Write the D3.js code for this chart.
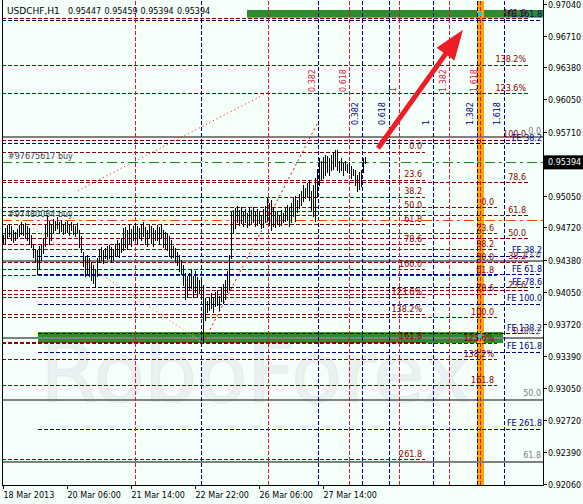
<!DOCTYPE html>
<html><head><meta charset="utf-8">
<script src="https://cdn.jsdelivr.net/npm/d3@7"></script>
<style>
html,body{margin:0;padding:0;background:#F5FFFA;}
svg{display:block;}
text{font-family:"DejaVu Sans",sans-serif;}
</style></head><body>
<svg id="c" width="583" height="504"></svg>
<script>
// ---------------- DATA ----------------
const headerParts = ["USDCHF,H1", "0.95447", "0.95459", "0.95394", "0.95394"];
const lastPrice = 0.95394;

// H1 bars (index 0 = first visible bar)
const highs = [0.9464,0.9471,0.9474,0.9475,0.9473,0.9469,0.9467,0.9470,0.9474,0.9477,
0.9475,0.9476,0.9473,0.9471,0.9464,0.9454,0.9450,0.9448,0.9453,0.9454,
0.9461,0.9474,0.9485,0.9479,0.9475,0.9481,0.9479,0.9483,0.9477,0.9480,
0.9475,0.9478,0.9479,0.9474,0.9477,0.9475,0.9473,0.9476,0.9469,0.9463,
0.9446,0.9442,0.9443,0.9440,0.9436,0.9433,0.9429,0.9440,0.9450,0.9452,
0.9448,0.9451,0.9453,0.9454,0.9452,0.9450,0.9455,0.9459,0.9456,0.9461,
0.9471,0.9472,0.9469,0.9475,0.9470,0.9473,0.9476,0.9473,0.9471,0.9475,
0.9477,0.9472,0.9469,0.9474,0.9473,0.9471,0.9469,0.9474,0.9472,0.9475,
0.9469,0.9467,0.9466,0.9463,0.9459,0.9453,0.9451,0.9446,0.9443,0.9438,
0.9433,0.9425,0.9422,0.9425,0.9429,0.9421,0.9427,0.9420,0.9417,0.9419,
0.9412,0.9399,0.9396,0.9400,0.9404,0.9399,0.9405,0.9407,0.9401,0.9410,
0.9413,0.9417,0.9427,0.9443,0.9488,0.9490,0.9492,0.9494,0.9490,0.9493,
0.9488,0.9491,0.9487,0.9492,0.9490,0.9493,0.9488,0.9491,0.9489,0.9485,
0.9491,0.9494,0.9502,0.9497,0.9500,0.9492,0.9488,0.9489,0.9485,0.9490,
0.9487,0.9492,0.9495,0.9493,0.9497,0.9502,0.9505,0.9500,0.9507,0.9510,
0.9516,0.9513,0.9518,0.9521,0.9510,0.9516,0.9523,0.9533,0.9544,0.9541,
0.9545,0.9547,0.9546,0.9544,0.9547,0.9550,0.9552,0.9552,0.9541,0.9544,
0.9539,0.9541,0.9538,0.9540,0.9536,0.9533,0.9531,0.9526,0.9529,0.9531,
0.9544,0.9545];
const lows = [0.9455,0.9456,0.9461,0.9463,0.9459,0.9457,0.9459,0.9461,0.9463,0.9465,
0.9464,0.9461,0.9459,0.9455,0.9452,0.9441,0.9436,0.9424,0.9429,0.9438,
0.9445,0.9453,0.9463,0.9455,0.9459,0.9467,0.9469,0.9471,0.9466,0.9468,
0.9465,0.9467,0.9467,0.9464,0.9469,0.9465,0.9463,0.9466,0.9452,0.9446,
0.9432,0.9422,0.9425,0.9421,0.9417,0.9414,0.9410,0.9421,0.9436,0.9438,
0.9435,0.9440,0.9439,0.9440,0.9436,0.9438,0.9442,0.9443,0.9441,0.9446,
0.9448,0.9452,0.9450,0.9456,0.9453,0.9459,0.9459,0.9455,0.9461,0.9459,
0.9463,0.9455,0.9453,0.9461,0.9456,0.9453,0.9459,0.9459,0.9455,0.9461,
0.9452,0.9451,0.9448,0.9442,0.9440,0.9441,0.9436,0.9433,0.9427,0.9424,
0.9412,0.9398,0.9400,0.9407,0.9409,0.9400,0.9405,0.9401,0.9404,0.9398,
0.9352,0.9376,0.9384,0.9386,0.9388,0.9384,0.9390,0.9391,0.9386,0.9396,
0.9393,0.9398,0.9405,0.9407,0.9440,0.9467,0.9471,0.9477,0.9474,0.9476,
0.9473,0.9477,0.9472,0.9474,0.9475,0.9477,0.9473,0.9474,0.9476,0.9471,
0.9472,0.9477,0.9479,0.9474,0.9469,0.9473,0.9472,0.9475,0.9473,0.9474,
0.9477,0.9479,0.9480,0.9473,0.9477,0.9484,0.9479,0.9488,0.9492,0.9495,
0.9499,0.9502,0.9503,0.9500,0.9490,0.9484,0.9479,0.9505,0.9516,0.9521,
0.9523,0.9526,0.9529,0.9526,0.9531,0.9533,0.9536,0.9531,0.9529,0.9531,
0.9526,0.9531,0.9529,0.9528,0.9523,0.9526,0.9516,0.9510,0.9512,0.9515,
0.9529,0.9539];

// axes
const timeTickIdx = [0, 32, 64, 96, 128, 160];
const timeTickLabels = ["18 Mar 2013", "20 Mar 06:00", "21 Mar 14:00", "22 Mar 22:00", "26 Mar 06:00", "27 Mar 14:00"];
const priceTicks = [0.97040,0.96710,0.96380,0.96050,0.95710,0.95050,0.94720,0.94380,0.94050,0.93720,0.93390,0.93050,0.92720,0.92390,0.92060];

// Fibonacci retracements (price at 0% and at 100%)
const fibLevels = [0, 23.6, 38.2, 50, 61.8, 78.6, 100, 123.6, 138.2, 161.8, 261.8];
const fibLabels = ["0.0","23.6","38.2","50.0","61.8","78.6","100.0","123.6%","138.2%","161.8","261.8"];
const fibA = [0.95503, 0.94284];
const fibB = [0.94927, 0.93787];
const fibC = [0.93585, 0.95627];
const fibGray = [0.95664, 0.90216];
const grayLevels = [0, 23.6, 38.2, 50, 61.8];
const grayLabels = ["0.0","23.6","38.2","50.0","61.8"];
// Fibonacci expansions
const fe1 = [0.94730, 0.93927];
const fe1Levels = [38.2, 61.8, 78.6, 100, 138.2, 161.8, 261.8];
const fe1Labels = ["FE 38.2","FE 61.8","FE 78.6","FE 100.0","FE 138.2","FE 161.8","FE 261.8"];
const fe2 = [0.95195, 0.96231];
const fe2Levels = [38.2, 161.8];
const fe2Labels = ["FE 38.2","FE 161.8"];

// Fibonacci time zones (bar index of 0 and 1)
const tzRed = [132.5, 198];
const tzNavy = [157.5, 215];
const tzLevels = [0, 0.382, 0.618, 1, 1.382, 1.618];
const tzLabels = ["", "0.382", "0.618", "1", "1.382", "1.618"];
const vlineRed = [66];
const vlineNavy = [99];

// zones (price ranges, bar index ranges)
const greenZones = [
  {i0: 122, i1: 270, p0: 0.96975, p1: 0.96902},
  {i0: 17.5, i1: 250, p0: 0.93633, p1: 0.93519}
];
const orangeBand = [237, 240.5];

// order lines
const orders = [
  {label: "#97675617 buy", price: 0.95397, color: "#1a8a1a"},
  {label: "#97480084 buy", price: 0.94793, color: "#ff4500"}
];

// trend lines [idx, price]
const salmonLine = [[15, 0.9471], [100, 0.9352]];
const redLine1 = [[100, 0.9352], [157.5, 0.9581]];
const redLine2 = [[37.5, 0.9510], [132.5, 0.9612]];
const arrowLine = [[187.5, 0.9554], [230, 0.9677]];

// ---------------- DRAW ----------------
const W = 583, H = 504;
const L = 2, R = 543, T = 1, B = 485;
const svg = d3.select("#c");
const x = d3.scaleLinear().domain([0, 270]).range([3, 543]);
const y = d3.scaleLinear().domain([0.9206, 0.9704]).range([483.7, 3.7]);
const px = v => Math.round(x(v)) + 0.5;
const py = v => Math.round(y(v)) + 0.5;

svg.append("rect").attr("width", W).attr("height", H).attr("fill", "#F5FFFA");
svg.append("defs").append("clipPath").attr("id", "clip")
  .append("rect").attr("x", L).attr("y", T).attr("width", R - L).attr("height", B - T);
const g = svg.append("g").attr("clip-path", "url(#clip)");

// watermark
g.append("text").attr("x", 40).attr("y", 402).attr("font-family", "Liberation Sans, Arial, sans-serif")
  .attr("font-size", 84).attr("fill", "#e9f1f1").attr("stroke", "#e2ebeb").attr("stroke-width", 1)
  .attr("textLength", 432).text("RoboForex");

// green zones
g.selectAll("rect.gz").data(greenZones).join("rect").attr("class", "gz")
  .attr("x", d => x(d.i0)).attr("width", d => x(d.i1) - x(d.i0))
  .attr("y", d => y(d.p0)).attr("height", d => y(d.p1) - y(d.p0))
  .attr("fill", "#2e8b2e");
// orange band
g.append("rect").attr("x", x(orangeBand[0])).attr("width", x(orangeBand[1]) - x(orangeBand[0]))
  .attr("y", T).attr("height", B - T).attr("fill", "#ffa500");

// helper for horizontal level lines
function hline(price, x0, x1, color, dash, w) {
  g.append("line").attr("x1", x0).attr("x2", x1).attr("y1", py(price)).attr("y2", py(price))
    .attr("stroke", color).attr("stroke-width", w || 1).attr("stroke-dasharray", dash || null)
    .attr("shape-rendering", "crispEdges");
}
const labels = svg.append("g");
function hlabel(price, xr, color, txt) {
  labels.append("text").attr("x", xr).attr("y", y(price) - 2.5).attr("text-anchor", "end")
    .attr("font-size", 8).attr("fill", color).text(txt);
}
function fibSet(anch, lvls, lbls, x0, x1, color, dash, w, lx) {
  lvls.forEach((l, k) => {
    const p = anch[0] + (anch[1] - anch[0]) * l / 100;
    hline(p, x0, x1, color, dash, w);
    if (lbls[k]) hlabel(p, lx, color, lbls[k]);
  });
}
const DR = "#8b0000", NV = "#000080", CR = "#dc143c", GR = "#808080";
fibSet(fibA, fibLevels, fibLabels, L, 425, DR, "4,2", 1, 422);
fibSet(fibB, fibLevels.slice(0, 10), fibLabels, L, 497, DR, "4,2", 1, 494);
fibSet(fibC, fibLevels.slice(0, 10), fibLabels, L, 528, DR, "4,2", 1, 526);
fibSet(fe1, fe1Levels, fe1Labels, 38, 542, NV, "4,2", 1, 542);
fibSet(fe2, fe2Levels, fe2Labels, L, 542, NV, "4,2", 1, 542);
fibSet(fibGray, grayLevels, grayLabels, L, R, GR, null, 2, 541);
// orange line along the top zone
hline(greenZones[0].p1, x(greenZones[0].i0), R, "#ff8c00", null, 1);

// vertical lines
function vline(idx, color) {
  g.append("line").attr("x1", px(idx)).attr("x2", px(idx)).attr("y1", T).attr("y2", B)
    .attr("stroke", color).attr("stroke-dasharray", "4,2").attr("shape-rendering", "crispEdges");
}
vlineRed.forEach(i => vline(i, CR));
vlineNavy.forEach(i => vline(i, NV));
function timeZones(z, color, yBottom, off) {
  tzLevels.forEach((l, k) => {
    const idx = z[0] + (z[1] - z[0]) * l;
    vline(idx, color);
    if (tzLabels[k]) {
      labels.append("text").attr("transform", `translate(${px(idx) - off},${yBottom}) rotate(-90)`)
        .attr("font-size", 8).attr("fill", color).text(tzLabels[k]);
    }
  });
}
timeZones(tzRed, CR, 92, 4);
timeZones(tzNavy, NV, 125, 5);

// trend lines
const lineGen = d3.line().x(d => x(d[0])).y(d => y(d[1]));
g.append("path").attr("d", lineGen(salmonLine)).attr("stroke", "#ffa07a").attr("fill", "none").attr("stroke-dasharray", "2,2");
g.append("path").attr("d", lineGen(redLine1)).attr("stroke", "#ff0000").attr("fill", "none").attr("stroke-dasharray", "2,3");
g.append("path").attr("d", lineGen(redLine2)).attr("stroke", "#ff0000").attr("fill", "none").attr("stroke-dasharray", "1,3");

// order lines
orders.forEach(o => {
  hline(o.price, L, R, o.color, "10,4,3,4", 1);
  labels.append("text").attr("x", 8).attr("y", y(o.price) - 3).attr("font-size", 8).attr("fill", "#3c3c50").text(o.label);
});

// bars
g.selectAll("line.bar").data(highs).join("line").attr("class", "bar")
  .attr("x1", (d, i) => px(i)).attr("x2", (d, i) => px(i))
  .attr("y1", d => y(d)).attr("y2", (d, i) => y(lows[i]) + 1)
  .attr("stroke", "#000").attr("stroke-width", 1).attr("shape-rendering", "crispEdges");

// cyan markers
[greenZones[0].p0, greenZones[1].p0].forEach(p => {
  g.append("rect").attr("x", x(237.5)).attr("y", y(p) + 2).attr("width", 4).attr("height", 4).attr("fill", "#20c8d8");
});

// arrow
{
  const a = arrowLine.map(d => [x(d[0]), y(d[1])]);
  const dx = a[1][0] - a[0][0], dy = a[1][1] - a[0][1], len = Math.hypot(dx, dy);
  const ux = dx / len, uy = dy / len, nx = -uy, ny = ux;
  const hl = 30, hw = 11;
  const bx = a[1][0] - ux * hl, by = a[1][1] - uy * hl;
  svg.append("line").attr("x1", a[0][0]).attr("y1", a[0][1]).attr("x2", bx + ux * 4).attr("y2", by + uy * 4)
    .attr("stroke", "#ee1c25").attr("stroke-width", 5);
  svg.append("path").attr("d", `M${a[1][0]},${a[1][1]}L${bx + nx * hw},${by + ny * hw}L${bx - nx * hw},${by - ny * hw}Z`)
    .attr("fill", "#ee1c25");
}

// frame
svg.append("line").attr("x1", L + 0.5).attr("x2", L + 0.5).attr("y1", 0).attr("y2", B + 0.5).attr("stroke", "#000");
svg.append("line").attr("x1", R + 0.5).attr("x2", R + 0.5).attr("y1", 0).attr("y2", B + 0.5).attr("stroke", "#000");
svg.append("line").attr("x1", L).attr("x2", R + 1).attr("y1", B + 0.5).attr("y2", B + 0.5).attr("stroke", "#000");

// header
const hx = [7, 68, 104.5, 140.5, 177];
const hs = [9, 8, 8, 8, 8];
headerParts.forEach((t, k) => svg.append("text").attr("x", hx[k]).attr("y", 14).attr("font-size", hs[k]).attr("fill", "#000").text(t));

// price axis
const ya = svg.append("g");
priceTicks.forEach(p => {
  const yy = py(p);
  ya.append("line").attr("x1", R).attr("x2", R + 4).attr("y1", yy).attr("y2", yy).attr("stroke", "#000");
  ya.append("text").attr("x", 548).attr("y", yy + 3).attr("font-size", 8).attr("fill", "#000").text(p.toFixed(5));
});
ya.append("rect").attr("x", R + 1).attr("y", y(lastPrice) - 7).attr("width", 40).attr("height", 14).attr("fill", "#000");
ya.append("text").attr("x", 548).attr("y", y(lastPrice) + 3).attr("font-size", 8).attr("fill", "#fff").text(lastPrice.toFixed(5));

// time axis
timeTickIdx.forEach((ti, k) => {
  const xx = px(ti);
  svg.append("line").attr("x1", xx).attr("x2", xx).attr("y1", B).attr("y2", B + 4).attr("stroke", "#000");
  svg.append("text").attr("x", xx).attr("y", 498).attr("font-size", 8).attr("fill", "#000").text(timeTickLabels[k]);
});
</script>
</body></html>
